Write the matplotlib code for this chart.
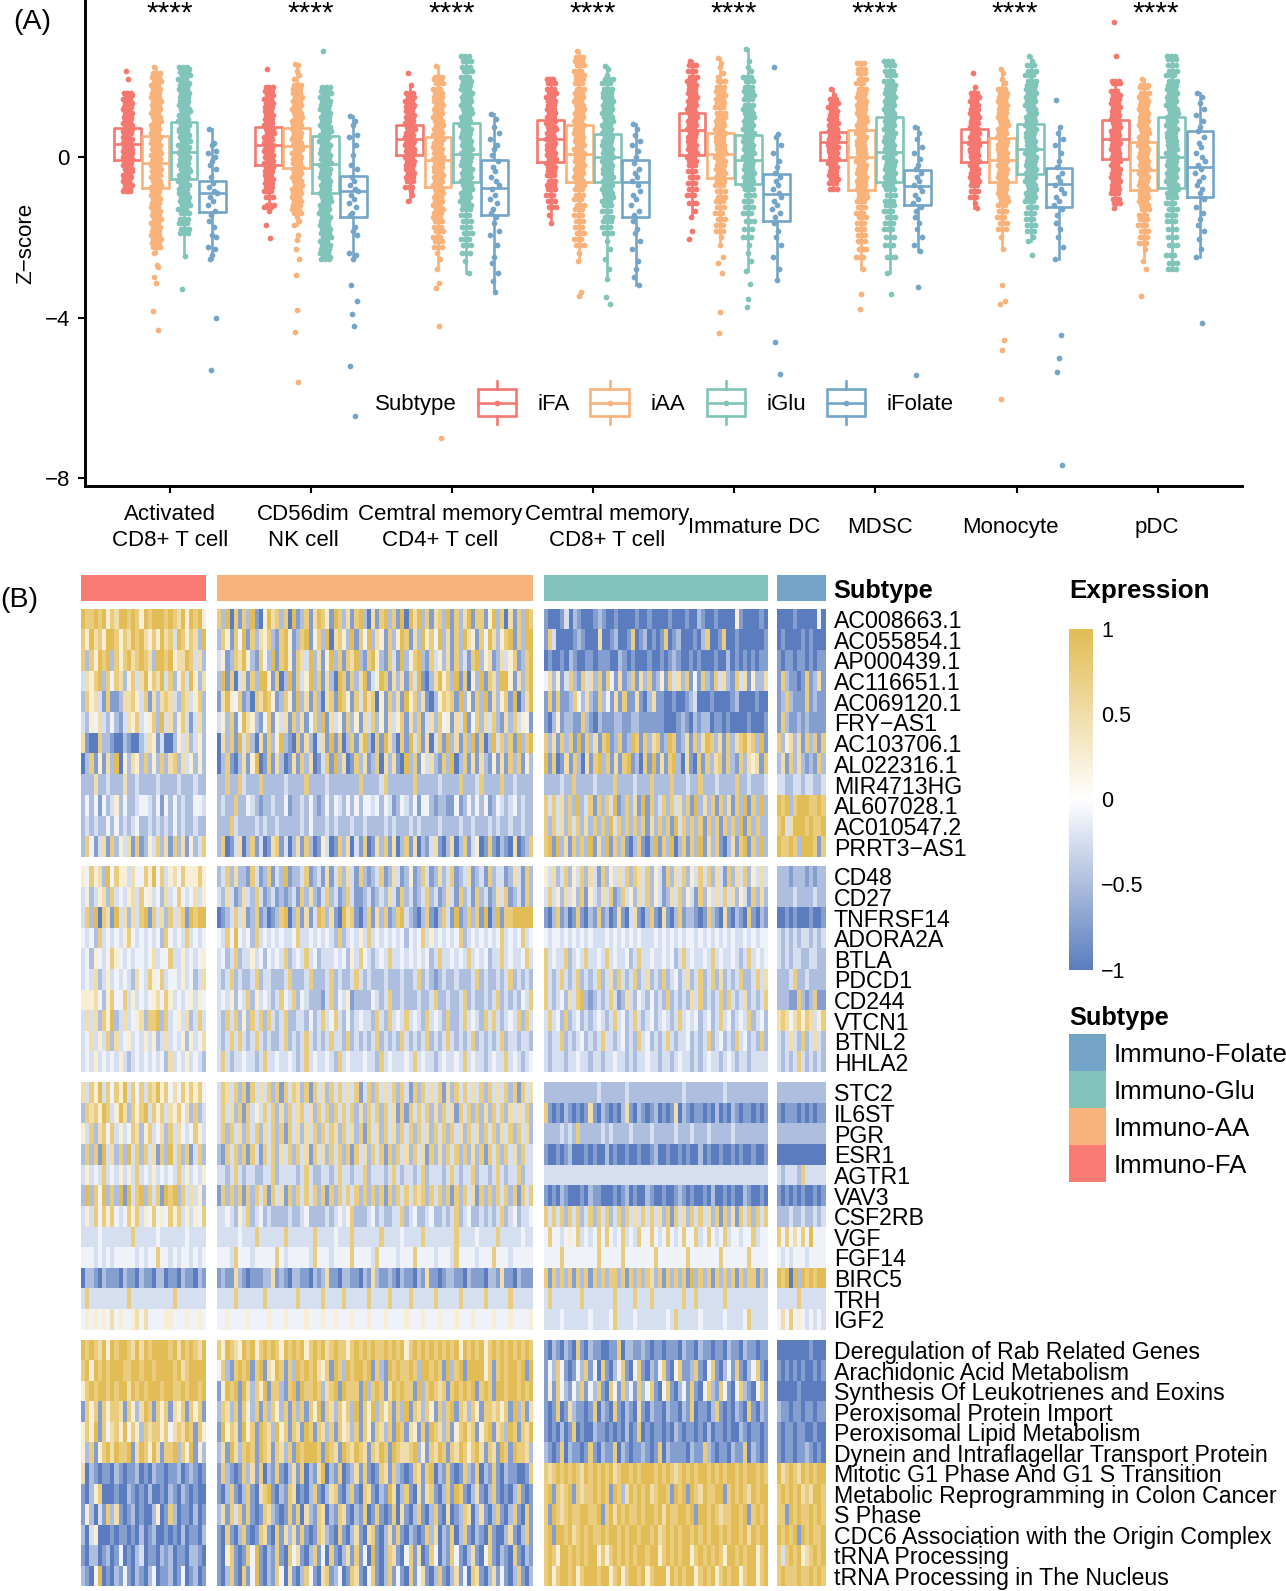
import numpy as np
import matplotlib
matplotlib.use("Agg")
import matplotlib.pyplot as plt
from matplotlib.colors import LinearSegmentedColormap, Normalize
from matplotlib.patches import Rectangle

plt.rcParams['font.family'] = ['Liberation Sans', 'DejaVu Sans']

# panel A
CELL_TYPES = ["Activated\nCD8+ T cell", "CD56dim\nNK cell", "Cemtral memory\nCD4+ T cell", "Cemtral memory\nCD8+ T cell",
              "Immature DC", "MDSC", "Monocyte", "pDC"]
SUBTYPES = ["iFA", "iAA", "iGlu", "iFolate"]
SUBTYPE_COLORS = ["#F4786F", "#F8B27A", "#80C4BA", "#74A5C8"]

IFA_Q1 = [-.06, -.2, .06, -.13, .05, -.08, -.13, -.05]
IFA_MED = [.33, .3, .45, .46, .68, .38, .38, .46]
IFA_Q3 = [.74, .75, .8, .94, 1.11, .63, .7, .94]
IFA_LO = [-.85, -1.35, -1.08, -1.65, -1.5, -.8, -1.27, -1.27]
IFA_HI = [1.6, 1.75, 1.8, 1.95, 2.4, 1.7, 1.75, 1.9]
IAA_Q1 = [-.78, -.27, -.75, -.63, -.51, -.81, -.63, -.81]
IAA_MED = [-.15, .27, -.07, .08, .08, 0, -.08, -.33]
IAA_Q3 = [.54, .73, .5, .81, .61, .68, .48, .38]
IAA_LO = [-2.4, -1.7, -2.78, -2.6, -2.2, -2.8, -2.28, -2.5]
IAA_HI = [2.24, 2.33, 2.28, 2.66, 2.48, 2.35, 2.2, 1.95]
IGLU_Q1 = [-.54, -.9, -.63, -.63, -.66, -.63, -.43, -.76]
IGLU_MED = [.13, -.16, .08, 0, -.08, .13, .2, 0]
IGLU_Q3 = [.88, .54, .86, .58, .56, 1.0, .84, 1.0]
IGLU_LO = [-2.47, -2.55, -2.9, -3.04, -2.85, -2.9, -2.1, -2.78]
IGLU_HI = [2.26, 1.75, 2.53, 2.28, 2.7, 2.4, 2.53, 2.53]
IFOL_Q1 = [-1.36, -1.49, -1.44, -1.49, -1.6, -1.19, -1.24, -1.0]
IFOL_MED = [-.9, -.85, -.76, -.63, -.91, -.73, -.68, -.25]
IFOL_Q3 = [-.6, -.47, -.08, -.08, -.43, -.33, -.28, .66]
IFOL_LO = [-2.55, -2.55, -3.37, -3.2, -3.06, -2.35, -2.53, -2.5]
IFOL_HI = [.7, 1.03, 1.09, .84, .58, .76, .76, 1.6]

ACT_IFA = [2.15, 1.95, 1.6, 1.55, 1.45, 1.35, 1.25, 1.2, 1.1, 1.0, .95, .85, .8, .7, .65, .6, .5, .45, .4, .35, .3, .25, .2, .15, .1, .05, 0, -.05, -.1, -.15, -.2, -.3, -.35, -.45, -.5, -.6, -.7, -.8, -.85]
ACT_IAA = [2.24, 2.1, 2.0, 1.9, 1.8, 1.7, 1.6, 1.5, 1.4, 1.3, 1.2, 1.1, 1.0, .9, .8, .7, .6, .5, .45, .35, .3, .2, .1, .05, -.05, -.1, -.2, -.3, -.35, -.45, -.5, -.6, -.7, -.75, -.85, -.95, -1.05, -1.15, -1.25, -1.35, -1.45, -1.55, -1.65, -1.75, -1.85, -1.95, -2.05, -2.15, -2.25, -2.4, -2.7, -2.75, -3.0, -3.15, -3.85, -4.3]
ACT_IGLU = [2.26, 2.2, 2.12, 2.05, 1.95, 1.85, 1.8, 1.7, 1.6, 1.5, 1.4, 1.3, 1.2, 1.15, 1.05, .95, .9, .8, .7, .65, .55, .5, .4, .3, .25, .15, .1, 0, -.05, -.15, -.2, -.3, -.35, -.45, -.5, -.6, -.7, -.8, -.9, -1.0, -1.1, -1.2, -1.3, -1.4, -1.55, -1.65, -1.8, -1.9, -2.47, -3.3]
ACT_IFOL = [.7, .35, .3, .15, .1, 0, -.1, -.2, -.3, -.5, -.65, -.75, -.85, -.9, -1.0, -1.1, -1.2, -1.35, -1.45, -1.6, -1.75, -1.95, -2.0, -2.25, -2.3, -2.45, -2.55, -4.0, -5.32]
CD56_IFA = [2.2, 1.75, 1.65, 1.55, 1.45, 1.35, 1.25, 1.15, 1.05, .95, .85, .8, .7, .6, .5, .45, .35, .3, .2, .15, .05, 0, -.1, -.15, -.25, -.35, -.45, -.55, -.65, -.75, -.85, -1.0, -1.2, -1.25, -1.35, -1.68, -2.02]
CD56_IAA = [2.33, 2.3, 2.15, 2.05, 1.95, 1.8, 1.7, 1.6, 1.5, 1.4, 1.3, 1.2, 1.1, 1.0, .9, .8, .7, .6, .5, .45, .35, .3, .2, .1, 0, -.05, -.15, -.25, -.3, -.4, -.5, -.6, -.7, -.8, -.9, -1.0, -1.1, -1.2, -1.3, -1.4, -1.5, -1.6, -1.7, -1.93, -2.06, -2.3, -2.55, -2.94, -3.82, -4.35, -5.62]
CD56_IGLU = [2.65, 1.75, 1.65, 1.6, 1.5, 1.4, 1.3, 1.2, 1.1, 1.0, .9, .8, .75, .65, .55, .5, .4, .3, .2, .1, .05, -.05, -.15, -.2, -.3, -.4, -.5, -.6, -.7, -.8, -.9, -1.0, -1.1, -1.2, -1.3, -1.4, -1.5, -1.6, -1.7, -1.8, -1.9, -2.0, -2.1, -2.2, -2.3, -2.4, -2.5, -2.55]
CD56_IFOL = [1.03, .9, .8, .55, .5, .3, .05, -.2, -.3, -.5, -.6, -.7, -.8, -.85, -.95, -1.05, -1.15, -1.25, -1.4, -1.45, -1.75, -1.85, -1.95, -2.4, -2.45, -2.55, -3.2, -3.58, -3.9, -4.2, -5.2, -6.46]

CD4_IFA = [2.1, 1.8, 1.6, 1.5, 1.4, 1.3, 1.25, 1.15, 1.05, 1.0, .9, .85, .75, .7, .6, .55, .5, .4, .35, .3, .2, .15, .1, 0, -.1, -.2, -.3, -.4, -.5, -.6, -.75, -.85, -.95, -1.08]
CD4_IAA = [2.28, 2.0, 1.95, 1.85, 1.7, 1.6, 1.5, 1.4, 1.3, 1.2, 1.1, 1.0, .9, .8, .7, .6, .55, .45, .35, .25, .2, .1, 0, -.05, -.15, -.25, -.35, -.45, -.5, -.6, -.7, -.8, -.9, -1.0, -1.1, -1.2, -1.3, -1.4, -1.5, -1.6, -1.75, -1.85, -2.0, -2.1, -2.25, -2.4, -2.55, -2.78, -3.14, -3.27, -4.2, -7.0]
CD4_IGLU = [2.53, 2.4, 2.25, 2.15, 2.0, 1.9, 1.8, 1.7, 1.6, 1.5, 1.4, 1.3, 1.2, 1.1, 1.0, .9, .8, .7, .6, .5, .4, .3, .2, .1, 0, -.1, -.2, -.3, -.4, -.5, -.6, -.7, -.8, -.9, -1.0, -1.1, -1.2, -1.3, -1.45, -1.6, -1.75, -1.9, -2.05, -2.2, -2.4, -2.6, -2.9]
CD4_IFOL = [1.09, .95, .75, .6, .45, .3, .2, .05, -.1, -.25, -.35, -.5, -.6, -.7, -.8, -.95, -1.05, -1.15, -1.3, -1.4, -1.5, -1.65, -1.85, -1.95, -2.2, -2.5, -2.65, -2.9, -3.1, -3.37]
CD8_IFA = [1.95, 1.85, 1.7, 1.6, 1.5, 1.4, 1.3, 1.2, 1.1, 1.0, .9, .85, .75, .7, .6, .5, .45, .35, .3, .2, .1, .05, -.05, -.15, -.25, -.35, -.45, -.6, -.7, -.8, -.95, -1.1, -1.25, -1.45, -1.65]
CD8_IAA = [2.66, 2.5, 2.4, 2.3, 2.15, 2.05, 1.95, 1.85, 1.7, 1.6, 1.5, 1.4, 1.3, 1.2, 1.1, 1.0, .9, .8, .7, .6, .5, .4, .3, .2, .1, 0, -.1, -.2, -.3, -.4, -.5, -.6, -.7, -.8, -.95, -1.05, -1.2, -1.3, -1.45, -1.6, -1.75, -1.9, -2.05, -2.2, -2.4, -2.6, -3.37, -3.47]
CD8_IGLU = [2.28, 2.2, 2.05, 1.95, 1.85, 1.7, 1.6, 1.5, 1.4, 1.3, 1.2, 1.1, 1.0, .9, .8, .7, .6, .5, .4, .3, .2, .1, 0, -.1, -.2, -.3, -.4, -.5, -.6, -.7, -.8, -.9, -1.0, -1.1, -1.2, -1.35, -1.5, -1.6, -1.75, -1.9, -2.1, -2.3, -2.55, -2.8, -3.04, -3.5, -3.67]
CD8_IFOL = [.84, .7, .55, .4, .3, .15, 0, -.15, -.3, -.4, -.5, -.6, -.7, -.85, -.95, -1.05, -1.2, -1.35, -1.45, -1.6, -1.8, -1.9, -2.1, -2.3, -2.6, -2.8, -3.0, -3.2]
IDC_IFA = [2.4, 2.3, 2.15, 2.0, 1.9, 1.8, 1.7, 1.6, 1.5, 1.4, 1.3, 1.2, 1.1, 1.0, .9, .8, .7, .6, .5, .4, .3, .2, .1, 0, -.1, -.2, -.35, -.5, -.65, -.8, -.95, -1.15, -1.35, -1.5, -1.85, -2.03]
IDC_IAA = [2.48, 2.35, 2.25, 2.1, 2.0, 1.9, 1.75, 1.65, 1.55, 1.45, 1.35, 1.25, 1.1, 1.0, .9, .8, .7, .6, .5, .4, .3, .2, .1, 0, -.1, -.2, -.3, -.4, -.5, -.6, -.7, -.85, -1.0, -1.1, -1.25, -1.4, -1.55, -1.7, -1.85, -2.0, -2.2, -2.5, -2.65, -2.9, -3.87, -4.38]
IDC_IGLU = [2.7, 2.4, 2.25, 2.15, 2.0, 1.9, 1.75, 1.65, 1.55, 1.45, 1.3, 1.2, 1.1, 1.0, .9, .8, .7, .6, .5, .4, .3, .2, .1, 0, -.1, -.2, -.3, -.4, -.5, -.6, -.7, -.8, -.95, -1.1, -1.25, -1.4, -1.6, -1.8, -2.0, -2.2, -2.4, -2.6, -2.85, -3.16, -3.55, -3.75]
IDC_IFOL = [2.25, .58, .5, .3, .1, -.1, -.25, -.4, -.5, -.6, -.7, -.8, -.9, -1.0, -1.1, -1.2, -1.3, -1.4, -1.5, -1.65, -1.85, -2.0, -2.2, -2.5, -2.8, -3.06, -4.6, -5.42]

MDSC_IFA = [1.7, 1.55, 1.45, 1.35, 1.25, 1.15, 1.05, .95, .85, .8, .7, .65, .55, .5, .45, .4, .3, .25, .2, .15, .1, 0, -.05, -.15, -.25, -.35, -.45, -.55, -.65, -.8]
MDSC_IAA = [2.35, 2.2, 2.1, 1.95, 1.85, 1.7, 1.6, 1.5, 1.4, 1.3, 1.2, 1.1, 1.0, .9, .8, .7, .6, .5, .4, .3, .2, .1, 0, -.1, -.2, -.3, -.4, -.5, -.6, -.7, -.8, -.9, -1.0, -1.1, -1.25, -1.4, -1.5, -1.65, -1.8, -1.95, -2.1, -2.3, -2.5, -2.8, -3.42, -3.8]
MDSC_IGLU = [2.4, 2.3, 2.15, 2.05, 1.9, 1.8, 1.7, 1.6, 1.5, 1.4, 1.3, 1.2, 1.1, 1.0, .9, .8, .7, .6, .5, .4, .3, .2, .1, 0, -.1, -.2, -.3, -.4, -.5, -.6, -.7, -.8, -.95, -1.1, -1.2, -1.35, -1.5, -1.65, -1.8, -2.0, -2.2, -2.5, -2.9, -3.42]
MDSC_IFOL = [.76, .6, .45, .25, .1, -.05, -.2, -.3, -.4, -.5, -.6, -.7, -.75, -.85, -.95, -1.05, -1.15, -1.25, -1.35, -1.5, -1.65, -1.8, -2.0, -2.2, -2.35, -3.24, -5.44]
MONO_IFA = [2.1, 1.75, 1.6, 1.5, 1.4, 1.3, 1.2, 1.1, 1.0, .9, .85, .75, .7, .6, .5, .45, .35, .3, .2, .15, .05, 0, -.1, -.2, -.3, -.4, -.5, -.6, -.7, -.85, -1.0, -1.15, -1.27]
MONO_IAA = [2.2, 2.1, 1.95, 1.85, 1.7, 1.6, 1.5, 1.4, 1.3, 1.2, 1.1, 1.0, .9, .8, .7, .6, .5, .4, .3, .2, .1, 0, -.1, -.2, -.3, -.4, -.5, -.6, -.7, -.8, -.9, -1.0, -1.1, -1.2, -1.35, -1.5, -1.65, -1.8, -2.0, -2.28, -3.2, -3.6, -3.67, -4.56, -4.8, -6.03]
MONO_IGLU = [2.53, 2.4, 2.3, 2.15, 2.05, 1.9, 1.8, 1.7, 1.6, 1.5, 1.4, 1.3, 1.2, 1.1, 1.0, .9, .8, .7, .6, .5, .4, .3, .2, .1, 0, -.1, -.2, -.3, -.4, -.5, -.6, -.7, -.8, -.9, -1.0, -1.1, -1.25, -1.4, -1.55, -1.7, -1.85, -2.0, -2.1, -2.45]
MONO_IFOL = [1.44, .76, .6, .45, .3, .1, -.1, -.25, -.4, -.5, -.6, -.7, -.8, -.9, -1.0, -1.1, -1.2, -1.3, -1.45, -1.65, -1.8, -2.0, -2.25, -2.53, -4.43, -5.0, -5.37, -7.67]
PDC_IFA = [3.37, 2.53, 1.9, 1.85, 1.65, 1.55, 1.45, 1.35, 1.25, 1.15, 1.05, .95, .85, .75, .65, .55, .45, .35, .3, .2, .1, 0, -.1, -.2, -.3, -.4, -.5, -.6, -.7, -.8, -.9, -1.05, -1.15, -1.27]
PDC_IAA = [1.95, 1.8, 1.75, 1.6, 1.5, 1.4, 1.3, 1.2, 1.1, 1.0, .9, .8, .7, .6, .5, .4, .3, .2, .1, 0, -.1, -.2, -.3, -.4, -.5, -.6, -.7, -.8, -.9, -1.0, -1.1, -1.2, -1.3, -1.45, -1.55, -1.7, -1.85, -2.0, -2.15, -2.3, -2.6, -2.78, -3.47]
PDC_IGLU = [2.53, 2.45, 2.3, 2.15, 2.05, 1.9, 1.8, 1.7, 1.6, 1.5, 1.4, 1.3, 1.2, 1.1, 1.0, .9, .8, .7, .6, .5, .4, .3, .2, .1, 0, -.1, -.2, -.3, -.4, -.5, -.6, -.7, -.8, -.9, -1.0, -1.15, -1.3, -1.45, -1.6, -1.8, -2.0, -2.2, -2.45, -2.65, -2.78]
PDC_IFOL = [1.6, 1.5, 1.35, 1.2, 1.05, .9, .75, .65, .5, .35, .25, .1, 0, -.1, -.2, -.3, -.4, -.5, -.6, -.7, -.8, -.9, -1.05, -1.25, -1.4, -1.55, -1.7, -1.85, -2.05, -2.3, -2.5, -4.13]

STRIPS = [
    [ACT_IFA, CD56_IFA, CD4_IFA, CD8_IFA, IDC_IFA, MDSC_IFA, MONO_IFA, PDC_IFA],
    [ACT_IAA, CD56_IAA, CD4_IAA, CD8_IAA, IDC_IAA, MDSC_IAA, MONO_IAA, PDC_IAA],
    [ACT_IGLU, CD56_IGLU, CD4_IGLU, CD8_IGLU, IDC_IGLU, MDSC_IGLU, MONO_IGLU, PDC_IGLU],
    [ACT_IFOL, CD56_IFOL, CD4_IFOL, CD8_IFOL, IDC_IFOL, MDSC_IFOL, MONO_IFOL, PDC_IFOL],
]
BOX_Q1 = [IFA_Q1, IAA_Q1, IGLU_Q1, IFOL_Q1]
BOX_MED = [IFA_MED, IAA_MED, IGLU_MED, IFOL_MED]
BOX_Q3 = [IFA_Q3, IAA_Q3, IGLU_Q3, IFOL_Q3]
BOX_LO = [IFA_LO, IAA_LO, IGLU_LO, IFOL_LO]
BOX_HI = [IFA_HI, IAA_HI, IGLU_HI, IFOL_HI]

# panel B
GENES = ["AC008663.1", "AC055854.1", "AP000439.1", "AC116651.1", "AC069120.1", "FRY\u2212AS1", "AC103706.1", "AL022316.1",
         "MIR4713HG", "AL607028.1", "AC010547.2", "PRRT3\u2212AS1",
         "CD48", "CD27", "TNFRSF14", "ADORA2A", "BTLA", "PDCD1", "CD244", "VTCN1", "BTNL2", "HHLA2",
         "STC2", "IL6ST", "PGR", "ESR1", "AGTR1", "VAV3", "CSF2RB", "VGF", "FGF14", "BIRC5", "TRH", "IGF2",
         "Deregulation of Rab Related Genes", "Arachidonic Acid Metabolism", "Synthesis Of Leukotrienes and Eoxins",
         "Peroxisomal Protein Import", "Peroxisomal Lipid Metabolism", "Dynein and Intraflagellar Transport Protein",
         "Mitotic G1 Phase And G1 S Transition", "Metabolic Reprogramming in Colon Cancer", "S Phase",
         "CDC6 Association with the Origin Complex", "tRNA Processing", "tRNA Processing in The Nucleus"]
BLOCK_SIZES = [12, 10, 12, 12]
LEGEND_NAMES = ["Immuno-Folate", "Immuno-Glu", "Immuno-AA", "Immuno-FA"]
LEGEND_COLORS = ["#74A5C8", "#82C4BB", "#F8B27B", "#F87C74"]
CBAR_TICKS = ["1", "0.5", "0", "\u22120.5", "\u22121"]

# each digit is a sample's colour level, looked up in LEVELS
LEVELS = [-1, -.75, -.5, -.25, -.1, .25, .5, .75, 1]
HEAT_IFA = [
    "877878576887875878887876858785", "758675887576878657586738757628", "727587827578678762887856687362",
    "365782747625736857683725738526", "275631711266753716267632763572", "325463242136573457283625731362",
    "610072210021002365130025362352", "027151628052652725272672635252", "222622322262232222322223222322",
    "242414235242234432414242322443", "232322424232342232323242322322", "274136172536171253726172615237",
    "547562847553644758473564755575", "352356273435637453426347434635", "372807618362637817362736718788",
    "434273434357434343427434373434", "342543475434344346344733534345", "343623534343264375473443534236",
    "555642574473534345647534345354", "363627582363456277827345362373", "346353726345343535236343525346",
    "343534343532343434342634353432",
    "637583747583747376857464757574", "276758735862757837573657462723", "537267473534762573462736434753",
    "272718362728372736172837271372", "353437343535373435343437353435", "282748272818378273718782736352",
    "353747574347573547454757353547", "333343333333733333433333343333", "444343434444434344744343443434",
    "022102111021102110220110211021", "373333333337333333333373333333", "454545464544564644445544454454",
    "878768587887686878888786878768", "785878788877887887888878678888", "578788787886878788878877878878",
    "175717577617526871757165717571", "575817467584752767757467687175", "527157868778168758617782758152",
    "602101102101120102110112012101", "102570001002101020010210210100", "152031726101201002501720110201",
    "203500010110102012001010201102", "102201201401023011021201102210", "210480102141021024011201401201",
]
HEAT_IAA = [
    "7280717281058672708127168751872617820617827180868271672817268177158270617287",
    "2751748172657217851278157280675281748265172587162857482617286517486257817288",
    "3512768521742817851763826158271768217852173182578217352617231782561263571278",
    "2817036172885170281735827162087172681358716261738102685728170528176288516278",
    "1685471207687512751826172067187517386705172618572610257671825172816257180268",
    "3527148652147153617261472816351725163725163571627136274516381472637216273541",
    "0627183720617258210716203618170271682071862071837160371826172817028372718278",
    "0271026158017162016172601371826017261270626108271536217280271616215161727152",
    "2272273222722222322227222232222222722223722222272222232222722237222272232222",
    "2322722432122322412232421242432424244342431243241442122114124242412432342322",
    "2227322223232232222232422232322232232222323222323222232222322322232322322322",
    "2701360271301671302617201530172603170162716027160213610260271350171021060127",
    "2372622173127132812237123161372631721237126312512731262371236123172331263172",
    "3263126327312312123172621372312731123123263172312372312631723172312637123172",
    "0123736127120127802716138726108671027162712783210271027318127271802817788888",
    "4374843427343434334733434343272343537343434342434735343434723434343473434734",
    "3423723353424343723437342333434253743234373343434342373343437343423373433473",
    "3237232237233222372223722237232237323222322232237232123223222372322323723232",
    "3435243725343237437243222137243512222432372232223223722322372322323723232437",
    "3273725273727323722332423734732423433273273437343273432722373432737323437273",
    "3237373237323223723237323237332723232372323273232372323732323723232372332332",
    "3732334332373343343237343343273433343327343334373433234334373433234337343234",
    "3763727173637271737627173627373637137273637273172736371627373637273637271736",
    "3736271735373726273673627372737372627372736171737372627361737272627372636372",
    "3727362737263727173626372737627362717362736273727362737273627362737263727362",
    "2173727173173726372736173627372717362737172736273617262737272627173727362733",
    "3323732332233723333237322332373323372333237323323723332373233723323732337233",
    "1727271727371736172737372717273737272727172737376727372717273617272737271737",
    "3343253723423222232234222232343472223423223372342234223237234223232372342334",
    "3333343337333333733333373333433373333337333343333733333337333343333733333433",
    "4443744434444474344444374443444474444374444344474444344437444434447444344444",
    "1211621011122612102211021261102211021621121021102161101221102111022161102111",
    "3333733333373333333733333733337333337333373333733333733333733333733333733333",
    "4454444544445444544445444544544454445444544445444544454445444544445444544445",
    "7587658785787875878785787867877578787877878785787878787878587878578787878787",
    "4721787817816587172878786571872878878172187877872887871827818888571787887818",
    "1587818627581772178187787267818777182787168787718278767178787817871887887878",
    "2762717527172752717271758176275728175827571728176275172781762751776757182716",
    "1857618571876285717618717627175627175176271871651718762715786715781672871768",
    "2618627871876176271878887187618768761768718766782517687176875786176187187762",
    "1721017261702171026170216802170126171017617210176178021710172170217102110017",
    "1027102710678102176010271026710271076102186027106167102718710261027101027101",
    "2617371710176210171706217602176102170171017061027102710601276026102710271071",
    "1071027101761071626171017621071026106710261710210172602170271021071002610271",
    "1057101748102171074610271407102617140810276104716017402174102610471021071021",
    "1027107148102174061027410671240176104710271410714610271026140761026141027102",
]
HEAT_IGLU = [
    "100013021000121001000010010000100010021001000051000010",
    "173000012100060012001701201017012000102700170010000001",
    "010010210011011100210100010010121001010001002010101011",
    "462513721736271741612716271251736271417217362173615226",
    "171711274262172416171161026110010012300010000120000100",
    "102512211721021112211221111110001210212201101000010001",
    "726172718172617812712871726712871261726872617267867281",
    "817016172061782716178120718161782061071726717217265617",
    "2222322722223222272222322272222722232272223222272232223",
    "7373627282371727381272618172372736271826271726172817282",
    "7273627372627272837272727162727183727271727172728172722",
    "7818261727281628172710271028172802717281627102617817282",
    "5362372537263172536372763725317263725373726317263725363",
    "3735263527153263712735263725312637253172536373625317262",
    "1027120171021712016103610271061027122101721061021071021",
    "4344343434343334343434343334343434344343434343433434344",
    "7343372343733437343342373343343423734334373433432373434",
    "7323732372323723627323723623272342362372372623237223736",
    "7323426378212323731263243242327232326372323727323623237",
    "3734272342323432373423732342343237343423423734234372342",
    "3233723234232373323423273423237323342323723423273423272",
    "3233323343323323343323233433233234332323433234323323333",
    "2222222222222322222232222222222222322222222232222222222",
    "7101021010161021010261021012010160210110102010210110101",
    "2222323272222232322223222232222232223222322222322222222",
    "1001012000101002010010010012001001010020100100101001001",
    "3333333333333333333333333333333333333333333333333333333",
    "1010210001021100010120100210010012101001020010100210010",
    "7373727372372737237273637373627173627373627172617372737",
    "4744345473434747434734374474347434744734743473443447344",
    "4444744444444744444744444447444444474444444744444474444",
    "7172727172717272772717272762717272718272717272717277172",
    "3733333337333333373333733373333333733733333373333333333",
    "3333433333343333473333433333334373333343333343333473333",
    "1021021071021100117022112101101110211021101102110211011",
    "1427410142714071024710471021471047112710471024171024710",
    "1517421427142710741724172471047102417104721741047210471",
    "1017016211017021071021061021102110217011027101021071021",
    "1010201701002110101020170101101021011010201101002101101",
    "2101702110171021170210112101702111102117210110211702101",
    "7678787876878787867887878887878767878788787878878788787",
    "7817678176778787187268787867887187818768778817878768788",
    "7187678778877817868787787887868778878188787677887817878",
    "7818878678787787887878878878678787887878788787887868788",
    "7875887878788575787878788788578787885787878758878788578",
    "7857887857888788578578878578885878788578785787885788578",
]
HEAT_IFOL = [
    "000010000040", "010000101000", "101101101011", "172110171261", "127211171211", "172112121111",
    "725626172717", "261726212172", "332233233223", "878278887787", "783688878778", "877872888717",
    "222122212122", "222232222322", "001010001001", "323232332323", "323233223322", "222372232222",
    "222117212711", "676467576357", "323632723632", "323237323232",
    "222222222222", "101110101011", "222222222222", "000000000000", "323332733333", "101010100101",
    "222322322323", "747464748444", "434344434444", "878082878788", "333337333333", "464745434343",
    "000000001000", "101010100101", "000001000000", "211011011011", "101101100100", "101101121010",
    "867876878788", "787878676887", "771878778787", "878781878778", "737878567878", "787778778787",
]


def S(v):
    # reference picture was read at a slightly smaller size, 1268 wide
    return v * 1286.0 / 1268.0


def make_axes(x0, y0, x1, y1):
    x0, y0, x1, y1 = S(x0), S(y0), S(x1), S(y1)
    return fig.add_axes([x0 / 1286, 1 - y1 / 1591, (x1 - x0) / 1286, (y1 - y0) / 1591])


fig = plt.figure(figsize=(12.86, 15.91), dpi=100)

# ---- (A) boxes and points
ax = make_axes(84, 0, 1225, 479)
jitter = [-.6, .3, -.1, .8, -.8, .5, 0, -.4, .7, -.2, .2, -.7, .4, .9, -.5, .1, -.9, .6, -.3]
spread = [.034, .036, .04, .06]
# the listed values are density readings, in the dense part of a strip each stands for three samples
crowd = [3, 3, 3, 1]
for s in range(4):
    offset = -.3 + .2 * s
    for c in range(8):
        iqr = BOX_Q3[s][c] - BOX_Q1[s][c]
        lo_dense = BOX_Q1[s][c] - 1.2 * iqr
        hi_dense = BOX_Q3[s][c] + 1.2 * iqr
        xs, ys = [], []
        for i, v in enumerate(STRIPS[s][c]):
            j = jitter[i % len(jitter)]
            if crowd[s] > 1 and lo_dense <= v <= hi_dense:
                for side in [-.7, 0, .7]:
                    xs.append(c + offset + spread[s] * (side + .35 * j))
                    ys.append(v)
            else:
                xs.append(c + offset + spread[s] * .6 * j)
                ys.append(v)
        ax.scatter(xs, ys, s=17, color=SUBTYPE_COLORS[s], linewidths=0, zorder=2)
    stats = []
    for c in range(8):
        stats.append({"q1": BOX_Q1[s][c], "med": BOX_MED[s][c], "q3": BOX_Q3[s][c],
                      "whislo": BOX_LO[s][c], "whishi": BOX_HI[s][c], "fliers": []})
    props = {"color": SUBTYPE_COLORS[s], "linewidth": 1.9}
    ax.bxp(stats, positions=[c + offset for c in range(8)], widths=.19, showfliers=False, showcaps=False,
           boxprops=props, medianprops=props, whiskerprops=props, manage_ticks=False, zorder=3)

ax.set_xlim(-.6, 7.6)
ax.set_ylim(-8.2, 3.924)
ax.set_yticks([0, -4, -8])
ax.set_xticks(range(8))
ax.set_xticklabels([])
ax.tick_params(axis="both", length=5, width=1.5, labelsize=16)
ax.tick_params(axis="y", pad=6)
for side in ["top", "right"]:
    ax.spines[side].set_visible(False)
for side in ["left", "bottom"]:
    ax.spines[side].set_linewidth(2.1)

# overlay for all free text and legends, in reference pixels
ov = fig.add_axes([0, 0, 1, 1], zorder=10)
ov.set_xlim(0, 1268)
ov.set_ylim(1568.7, 0)
ov.axis("off")

ov.text(13, 22, "(A)", fontsize=20.5, va="center")
ov.text(0, 592, "(B)", fontsize=20.5, va="center")
ov.text(25, 240, "Z\u2212score", fontsize=16, rotation=90, ha="center", va="center")

label_x = [168, 299, 434, 599, 744, 868, 996, 1141]
for c in range(8):
    ov.text(167 + 139 * c, 21, "****", fontsize=21.5, ha="center", va="baseline")
    ov.text(label_x[c], 520, CELL_TYPES[c], fontsize=16, ha="center", va="center", linespacing=1.3)

# legend of panel A
ov.text(370, 399, "Subtype", fontsize=16, va="center")
key_x = [471, 582, 697, 815]
text_x = [530, 641, 756, 874]
for s in range(4):
    col = SUBTYPE_COLORS[s]
    x = key_x[s]
    ov.add_patch(Rectangle((x, 384), 38, 26, fill=False, edgecolor=col, linewidth=1.9))
    ov.plot([x, x + 38], [397, 397], color=col, lw=1.9)
    ov.plot([x + 19, x + 19], [376, 384], color=col, lw=1.9)
    ov.plot([x + 19, x + 19], [410, 418], color=col, lw=1.9)
    ov.scatter([x + 19], [397], s=17, color=col, linewidths=0)
    ov.text(text_x[s], 399, SUBTYPES[s], fontsize=16, va="center")

# ---- (B) heatmaps
cmap = LinearSegmentedColormap.from_list("expr", ["#5B7DBF", "#FFFFFF", "#E2BC55"])
norm = Normalize(-1, 1)
group_x = [(80, 203), (214, 526), (536, 757), (766, 814)]
block_y = [(600, 845), (854, 1057), (1067, 1311), (1321, 1564)]
group_data = [HEAT_IFA, HEAT_IAA, HEAT_IGLU, HEAT_IFOL]

for g in range(4):
    a = make_axes(group_x[g][0], 567, group_x[g][1], 593)
    a.set_facecolor(LEGEND_COLORS[3 - g])
    a.set_xticks([])
    a.set_yticks([])
    for sp in a.spines.values():
        sp.set_visible(False)

row = 0
for b in range(4):
    n = BLOCK_SIZES[b]
    y0, y1 = block_y[b]
    for g in range(4):
        a = make_axes(group_x[g][0], y0, group_x[g][1], y1)
        for r in range(n):
            cells = np.array([LEVELS[int(ch)] for ch in group_data[g][row + r]])
            edges = np.linspace(0, 1, len(cells) + 1)
            a.pcolormesh(edges, [r, r + 1], cells[np.newaxis, :], cmap=cmap, norm=norm, linewidth=0, rasterized=True)
        a.set_xlim(0, 1)
        a.set_ylim(n, 0)
        a.axis("off")
    for r in range(n):
        ov.text(822, y0 + (y1 - y0) * (r + .5) / n, GENES[row + r], fontsize=16.7, va="center_baseline")
    row += n

ov.text(822, 580, "Subtype", fontsize=18.3, fontweight="bold", va="center_baseline")
ov.text(1054, 580, "Expression", fontsize=18.7, fontweight="bold", va="center_baseline")

# colour bar
cb = make_axes(1054, 620, 1077, 956)
cb.imshow(np.linspace(1, -1, 256)[:, np.newaxis], aspect="auto", cmap=cmap, norm=norm)
cb.axis("off")
for i in range(5):
    ov.text(1086, 620 + 84 * i, CBAR_TICKS[i], fontsize=15.5, va="center_baseline")

# subtype legend
ov.text(1054, 1001, "Subtype", fontsize=18.3, fontweight="bold", va="center_baseline")
for i in range(4):
    ov.add_patch(Rectangle((1054, 1019.5 + 36.5 * i), 37, 36.5, facecolor=LEGEND_COLORS[i], edgecolor="none"))
    ov.text(1098, 1038 + 36.5 * i, LEGEND_NAMES[i], fontsize=18.6, va="center_baseline")

fig.savefig("out.png", dpi=100)
